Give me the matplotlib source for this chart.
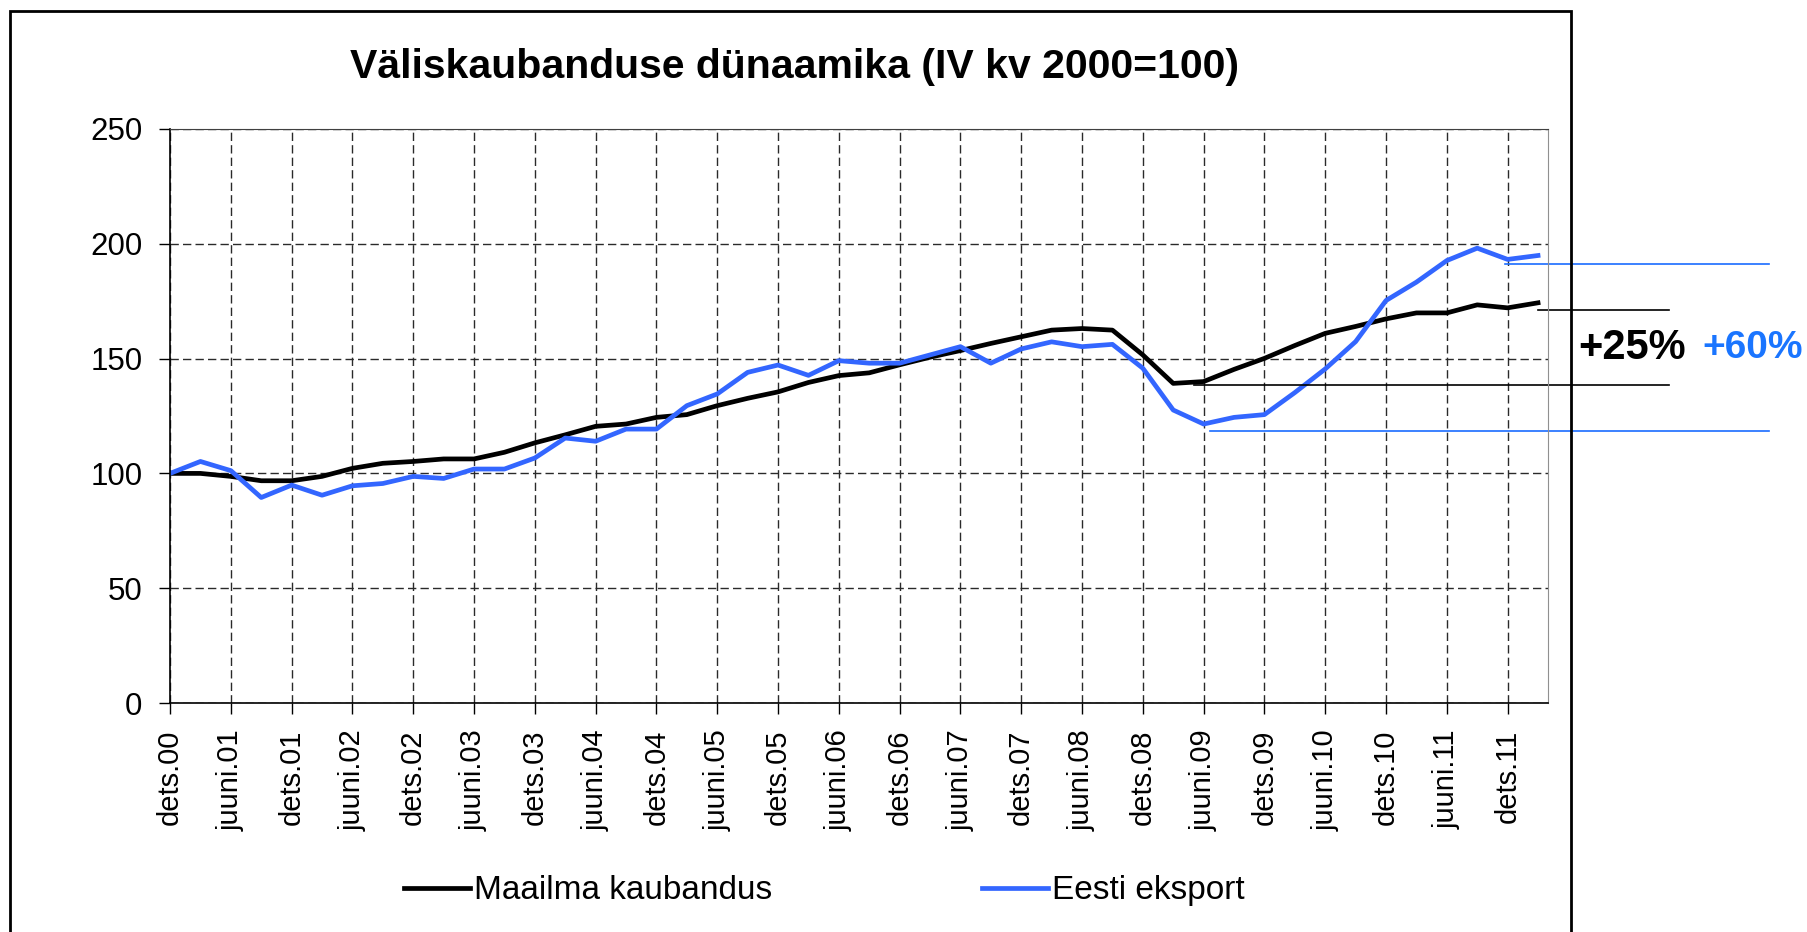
import matplotlib
matplotlib.use('Agg')
import matplotlib.pyplot as plt
from matplotlib.patches import Rectangle

plt.rcParams['font.family'] = ['Liberation Sans', 'DejaVu Sans']

TITLE = 'Väliskaubanduse dünaamika (IV kv 2000=100)'

# tick labels shown on every second quarter (dets.00 ... dets.11)
tick_labels = [
    'dets.00', 'juuni.01', 'dets.01', 'juuni.02', 'dets.02', 'juuni.03',
    'dets.03', 'juuni.04', 'dets.04', 'juuni.05', 'dets.05', 'juuni.06',
    'dets.06', 'juuni.07', 'dets.07', 'juuni.08', 'dets.08', 'juuni.09',
    'dets.09', 'juuni.10', 'dets.10', 'juuni.11', 'dets.11',
]

# quarterly index values, IV q 2000 = 100 (46 quarters, up to I q 2012)
world_trade = [
    100.0, 100.0, 98.7, 96.8, 96.8, 98.7, 102.2, 104.4, 105.2, 106.3,
    106.3, 109.2, 113.3, 116.8, 120.5, 121.5, 124.4, 125.6, 129.5, 132.7,
    135.5, 139.6, 142.6, 143.8, 147.3, 150.6, 153.5, 156.6, 159.5, 162.4,
    163.1, 162.4, 151.6, 139.2, 140.0, 145.3, 150.1, 155.7, 161.0, 164.0,
    167.3, 169.9, 169.9, 173.4, 172.1, 174.3,
]
estonian_exports = [
    100.0, 105.2, 101.2, 89.5, 94.9, 90.5, 94.6, 95.6, 98.7, 97.8,
    101.9, 101.9, 106.7, 115.4, 114.0, 119.3, 119.3, 129.5, 134.6, 144.0,
    147.2, 142.7, 149.1, 148.0, 148.0, 151.6, 155.2, 148.0, 154.2, 157.3,
    155.2, 156.2, 145.8, 127.6, 121.5, 124.4, 125.6, 135.2, 145.5, 157.4,
    175.3, 183.3, 192.7, 198.1, 193.2, 194.9,
]

series_names = ['Maailma kaubandus', 'Eesti eksport']
series_colors = ['#000000', '#3366ff']

# hand-drawn reference levels (trough 2009 and latest value)
world_levels = [138.3, 171.3]
export_levels = [118.4, 191.1]
crisis_start = 30  # search for the 2009 trough from here on

fig = plt.figure(figsize=(18.07, 9.32), dpi=100)
ax = fig.add_axes([0.0941, 0.2457, 0.7626, 0.6159])

x = range(len(world_trade))
ax.plot(x, world_trade, color=series_colors[0], lw=3.4, label=series_names[0])
ax.plot(x, estonian_exports, color=series_colors[1], lw=3.4, label=series_names[1])

ax.set_xlim(0, 45.33)
ax.set_ylim(0, 250)
ax.set_xticks(range(0, 2 * len(tick_labels), 2))
ax.set_xticklabels(tick_labels, rotation=90, fontsize=21)
ax.set_yticks(range(0, 251, 50))
ax.tick_params(axis='y', labelsize=22.5, length=8, width=1, pad=12)
ax.tick_params(axis='x', length=8, width=1, pad=11)

ax.grid(True, linestyle=(0, (6, 3)), color='#2a2a2a', lw=1.0)
ax.spines['left'].set_linewidth(1.2)
ax.spines['bottom'].set_linewidth(1.2)
ax.spines['top'].set_color('#404040')
ax.spines['right'].set_color('#909090')

# growth since the 2009 trough
world_pct = round((world_trade[-1] / min(world_trade[crisis_start:]) - 1) * 100)
export_pct = round((estonian_exports[-1] / min(estonian_exports[crisis_start:]) - 1) * 100)

tr = ax.get_yaxis_transform()
ax.plot([0.743, 1.088], [world_levels[0]] * 2, color='black', lw=1.2,
        transform=tr, clip_on=False)
ax.plot([0.9925, 1.088], [world_levels[1]] * 2, color='black', lw=1.2,
        transform=tr, clip_on=False)
ax.plot([0.755, 1.16], [export_levels[0]] * 2, color='#1a6cff', lw=1.2,
        transform=tr, clip_on=False)
ax.plot([0.969, 1.16], [export_levels[1]] * 2, color='#1a6cff', lw=1.2,
        transform=tr, clip_on=False)

mid = (world_levels[0] + world_levels[1]) / 2
ax.text(1.061, mid, f'+{world_pct}%', transform=tr, ha='center', va='center',
        fontsize=30, fontweight='bold', color='black')
ax.text(1.185, mid, f'+{export_pct}%', transform=tr, ha='right', va='center',
        fontsize=28, fontweight='bold', color='#1a75ff')

fig.text(794 / 1807, 1 - 67 / 932, TITLE, ha='center', va='center',
         fontsize=29.5, fontweight='bold')

fig.legend(loc='center', bbox_to_anchor=(0.456, 0.044), ncol=2, frameon=False,
           fontsize=24, handlelength=2.0, handletextpad=0.1, columnspacing=6.3)

# outer chart frame (open at the bottom edge of the image)
fig.patches.append(Rectangle((10 / 1807, -0.02), 1561 / 1807, 1 - 11 / 932 + 0.02,
                             transform=fig.transFigure, fill=False, lw=2,
                             edgecolor='black'))

fig.savefig('out.png', dpi=100)
